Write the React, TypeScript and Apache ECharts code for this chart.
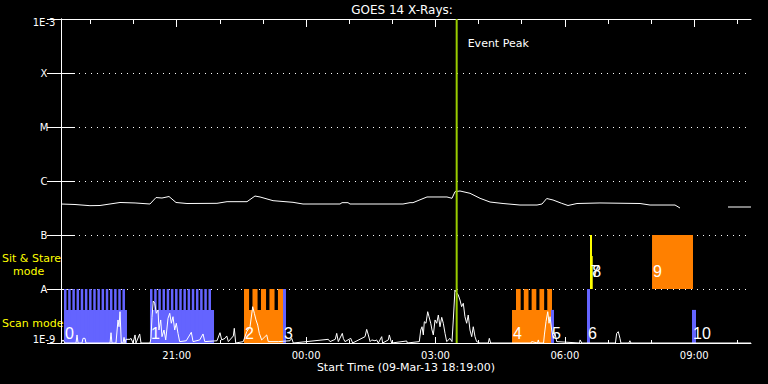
import React, { useEffect, useRef } from 'react';
import * as echarts from 'echarts';

const titleText = 'GOES 14 X-Rays:';
const startLabel = 'Start Time (09-Mar-13 18:19:00)';
const startClock = '18:19';
const spanMinutes = 960;

const minorTickLabels = ['19:00', '20:00', '21:00', '22:00', '23:00', '00:00', '01:00', '02:00', '03:00', '04:00', '05:00', '06:00', '07:00', '08:00', '09:00', '10:00'];
const majorTickLabels = ['21:00', '00:00', '03:00', '06:00', '09:00'];

const yExponents = [-9, -8, -7, -6, -5, -4, -3];
const yTickLabels = ['1E-9', 'A', 'B', 'C', 'M', 'X', '1E-3'];

// GOES long channel, minutes since start, flux in 1e-7 W/m^2 (null = data gap)
const longTime = [0, 19.5, 40.3, 54.3, 82.1, 103, 123.8, 132.2, 140.5, 150.3, 160, 175.3, 217, 231, 258.8, 269.9, 276.9, 295, 322.8, 336.7, 388.2, 391, 399.3, 402.1, 475.8, 485.6, 489.7, 509.2, 537, 544, 548.2, 555.1, 569, 583, 596.9, 615, 638.6, 662.3, 669.2, 675.8, 684.5, 696.6, 705.4, 717.9, 749.9, 805.6, 819.5, 854.3, 861.2, 895, 928, 960];
const longFlux = [3.75, 3.67, 3.49, 3.52, 4.0, 3.92, 3.75, 4.94, 4.84, 5.16, 4.0, 3.83, 3.86, 4.14, 4.14, 5.27, 5.06, 4.32, 4.03, 3.75, 3.75, 3.97, 3.97, 3.75, 3.75, 3.97, 3.97, 5.06, 5.06, 4.78, 6.34, 6.53, 5.92, 4.78, 4.08, 3.83, 3.59, 3.59, 3.75, 4.74, 4.45, 3.86, 3.52, 3.83, 3.92, 3.83, 3.59, 3.59, 3.16, null, 3.3, 3.3];

// GOES short channel, minutes since start, flux in 1e-9 W/m^2
const shortTime = [0, 2.8, 5.6, 20.9, 22.3, 23.7, 29.2, 30.6, 33.4, 34.8, 68.2, 69.6, 70.9, 76.5, 79.3, 80.7, 82.1, 83.9, 86.3, 87.7, 89, 90.4, 96, 97.4, 100.2, 103, 104.3, 109.5, 111.3, 123.8, 125.2, 126.6, 128.4, 130.4, 132.6, 135, 136.3, 138.7, 140.5, 143.3, 145.7, 148.9, 151.3, 153.5, 155.8, 158.2, 160.4, 162.8, 165.1, 174.3, 181.3, 183.7, 193, 197.6, 200, 217, 221.2, 223.6, 228.2, 230.6, 232.8, 239.8, 241.1, 243.1, 253.6, 258.4, 263, 266.7, 269, 271.3, 273.7, 275.9, 279.2, 283.8, 286.2, 288.4, 302.3, 318.6, 321, 323.2, 371.9, 374.3, 381.6, 383.6, 385.8, 391.4, 392.8, 395.1, 403.1, 405.8, 423, 425.3, 427.6, 430, 432.3, 436.8, 439.2, 441.5, 446.2, 447.5, 455.4, 456.8, 458.7, 460.1, 481, 481.8, 498.5, 500.5, 502.3, 504.1, 505.5, 507.8, 510.2, 512, 514.4, 516.2, 518, 520.4, 522.7, 525, 527.3, 529.7, 531.9, 534.3, 536.6, 541.2, 544, 545.8, 548.1, 550.5, 552.7, 555.1, 557.4, 559.7, 562, 564.4, 566.6, 569, 571.4, 573.6, 576, 578.3, 582.9, 594.5, 595.9, 597.8, 653.9, 654.9, 663, 664.1, 665.1, 671.4, 672.5, 674.8, 677.2, 679, 680.4, 682.7, 685, 687.3, 689.7, 721.5, 722.2, 724.6, 771.4, 773.1, 775.3, 777.7, 779, 790.1, 791.5, 792.9, 960];
const shortFlux = [1, 1.14, 1, 1, 1.41, 1, 1, 1.22, 1.22, 1, 1, 1.55, 1, 1, 2.67, 2.0, 3.8, 1, 1, 1.27, 1, 1.17, 1.17, 1.22, 1, 1.41, 1, 1.47, 1, 1, 1.22, 3.0, 6.0, 5.44, 3.55, 4.09, 1.74, 2.67, 1.31, 1.74, 1.14, 2.87, 3.55, 2.32, 3.07, 1.74, 2.32, 1.51, 1.06, 1.1, 1.58, 1.06, 1.14, 1.47, 1.06, 1.1, 1.55, 1.14, 1.22, 1.35, 1.06, 1.35, 1.87, 1, 1.06, 1.62, 2.0, 4.7, 3.55, 2.67, 2.15, 1.51, 1.14, 1.31, 1.41, 1.06, 1.06, 1.1, 1.22, 1, 1.17, 1.06, 1.17, 1.51, 1.06, 1.51, 1.22, 1.06, 1.22, 1, 1.31, 1.79, 1.41, 1.06, 1.14, 1.1, 1.14, 1, 1.31, 1, 1.14, 1.41, 1.14, 1, 1.09, 1, 1.06, 1.74, 2.0, 1.41, 2.48, 2.32, 3.8, 3.07, 2.32, 1.74, 1.41, 2.67, 2.32, 3.3, 2.0, 2.99, 2.32, 1.51, 1.06, 1.22, 1.06, 2.67, 9.58, 8.5, 7.74, 6.25, 4.7, 5.44, 3.07, 2.32, 3.3, 1.74, 1.31, 2.0, 1.31, 1.06, 1, 1, 1.22, 1, 1, 1.06, 1, 1.14, 1, 1, 1.41, 2.48, 3.8, 2.32, 3.07, 1.74, 1.22, 1.51, 1.06, 1, 1.14, 1, 1, 1.51, 1.62, 1.22, 1, 1, 1.1, 1, 1];

// Observation studies (minutes since start)
const studyNames = ['0', '1', '2', '3', '4', '5', '6', '7', '8', '9', '10'];
const studyMode = ['scan', 'scan', 'scan', 'scan', 'scan', 'scan', 'scan', 'sit', 'sit', 'sit', 'scan'];
const studyStart = [4.2, 123.8, 254.6, 308.9, 627.5, 681.7, 731.8, 736.0, 737.8, 822.3, 877.9];
const studyEnd = [91.8, 212.9, 308.9, 313.0, 683.1, 685.9, 736.0, 738.8, 739.8, 879.3, 883.5];
const studyColor = ['#6464ff', '#6464ff', '#ff8000', '#6464ff', '#ff8000', '#6464ff', '#6464ff', '#ffff00', '#ffff00', '#ff8000', '#6464ff'];
const studyBase = [1e-9, 1e-9, 1e-9, 1e-9, 1e-9, 1e-9, 1e-9, 1e-8, 1e-8, 1e-8, 1e-9];
const studyTop = [4.1e-9, 4.1e-9, 4.1e-9, 4.1e-9, 4.1e-9, 4.1e-9, 4.1e-9, 1e-7, 4.07e-8, 1e-7, 4.1e-9];
const studyRasters = [15, 15, 5, 1, 5, 0, 1, 0, 0, 0, 0];
const rasterFrom = [4.2, 123.8, 254.6, 308.9, 633.0, null, 731.8, null, null, null, null];
const rasterTo = [89.0, 208.7, 308.9, 313.0, 683.1, null, 736.0, null, null, null, null];
const rasterTop = 1e-8;
const labelLevelScan = 1.53e-9;
const labelLevelSit = 2.07e-8;

const eventPeak = 550.5;
const eventLabel = 'Event Peak';

const FONT = "'DejaVu Sans'";
const TOOTH_FRACTION = 0.6;

const pad = (n: number) => (n < 10 ? '0' : '') + n;
const clockToMin = (s: string) => {
  const [h, m] = s.split(':').map(Number);
  return h * 60 + m;
};
const startMin = clockToMin(startClock);
const clockToOffset = (s: string) => {
  let v = clockToMin(s) - startMin;
  if (v < 0) v += 1440;
  return v;
};
const offsetToClock = (v: number) => {
  const t = Math.round(v + startMin) % 1440;
  return pad(Math.floor(t / 60)) + ':' + pad(t % 60);
};

export default function App() {
  const ref = useRef<HTMLDivElement>(null);
  useEffect(() => {
    if (!ref.current) return;
    const chart = echarts.init(ref.current, undefined, { renderer: 'svg' });
    const minorTicks = minorTickLabels.map(clockToOffset);
    const majorTicks = majorTickLabels.map(clockToOffset);
    const white = '#ffffff';
    const lg = Math.log10;

    const xBase = { type: 'value', min: 0, max: spanMinutes, splitLine: { show: false } };

    const option: any = {
      animation: false,
      backgroundColor: '#000000',
      grid: { left: 61, right: 17, top: 19, bottom: 41, outerBoundsMode: 'none', containLabel: false },
      graphic: [
        { type: 'text', x: 402, y: 10, style: { text: titleText, fill: white, fontSize: 12, fontFamily: FONT, align: 'center', verticalAlign: 'middle' } },
        { type: 'text', x: 2, y: 258, style: { text: 'Sit & Stare', fill: '#ffff00', fontSize: 11, fontFamily: FONT, align: 'left', verticalAlign: 'middle' } },
        { type: 'text', x: 13, y: 271, style: { text: 'mode', fill: '#ffff00', fontSize: 11, fontFamily: FONT, align: 'left', verticalAlign: 'middle' } },
        { type: 'text', x: 2, y: 323, style: { text: 'Scan mode', fill: '#ffff00', fontSize: 11, fontFamily: FONT, align: 'left', verticalAlign: 'middle' } },
      ],
      xAxis: [
        {
          ...xBase, position: 'bottom',
          axisLine: { show: true, lineStyle: { color: white, width: 1 } },
          axisTick: { show: true, inside: true, length: 6, customValues: majorTicks, lineStyle: { color: white } },
          axisLabel: { show: true, customValues: majorTicks, formatter: (v: number) => offsetToClock(v), color: white, fontSize: 10, fontFamily: FONT, margin: 7 },
          name: startLabel, nameLocation: 'middle', nameGap: 19, nameMoveOverlap: false,
          nameTextStyle: { color: white, fontSize: 11, fontFamily: FONT, verticalAlign: 'top' },
        },
        {
          ...xBase, position: 'bottom',
          axisLine: { show: false },
          axisTick: { show: true, inside: true, length: 3, customValues: minorTicks, lineStyle: { color: white } },
          axisLabel: { show: false },
        },
        {
          ...xBase, position: 'top',
          axisLine: { show: true, lineStyle: { color: white, width: 1 } },
          axisTick: { show: true, inside: true, length: 8, customValues: majorTicks, lineStyle: { color: white } },
          axisLabel: { show: false },
        },
        {
          ...xBase, position: 'top',
          axisLine: { show: false },
          axisTick: { show: true, inside: true, length: 5, customValues: minorTicks, lineStyle: { color: white } },
          axisLabel: { show: false },
        },
      ],
      yAxis: [
        {
          type: 'value', min: yExponents[0], max: yExponents[yExponents.length - 1], interval: 1, position: 'left',
          axisLine: { show: true, lineStyle: { color: white, width: 1 } },
          axisTick: { show: true, inside: true, length: 14, lineStyle: { color: white } },
          axisLabel: {
            show: true, color: white, fontSize: 10, fontFamily: FONT, align: 'center', margin: 17,
            formatter: (v: number) => {
              const i = yExponents.indexOf(Math.round(v));
              const t = i >= 0 ? yTickLabels[i] : '';
              if (i === yExponents.length - 1) return '{top|' + t + '}';
              if (i === 0) return '{bot|' + t + '}';
              return t;
            },
            rich: {
              top: { padding: [7, 0, 0, 0], color: white, fontSize: 10, fontFamily: FONT },
              bot: { padding: [0, 0, 7, 0], color: white, fontSize: 10, fontFamily: FONT },
            },
          },
          splitLine: { show: true, lineStyle: { color: white, width: 1, type: [1, 5] } },
        },
        {
          type: 'value', min: yExponents[0], max: yExponents[yExponents.length - 1], interval: 1, position: 'right',
          axisLine: { show: true, lineStyle: { color: white, width: 1 } },
          axisTick: { show: true, inside: true, length: 14, lineStyle: { color: white } },
          axisLabel: { show: false },
          splitLine: { show: false },
        },
      ],
      series: [
        {
          type: 'custom', name: 'studies', z: 1, xAxisIndex: 0, yAxisIndex: 0,
          data: studyNames.map((_, i) => [studyStart[i], studyEnd[i], lg(studyBase[i]), lg(studyTop[i])]),
          encode: { x: [0, 1], y: [2, 3] },
          renderItem: (params: any, api: any) => {
            const i = params.dataIndex;
            const color = studyColor[i];
            const rect = (x0: number, x1: number, y0: number, y1: number) => {
              const p0 = api.coord([x0, y1]);
              const p1 = api.coord([x1, y0]);
              return { type: 'rect', shape: { x: p0[0], y: p0[1], width: p1[0] - p0[0], height: p1[1] - p0[1] }, style: { fill: color } };
            };
            const children: any[] = [rect(studyStart[i], studyEnd[i], lg(studyBase[i]), lg(studyTop[i]))];
            const n = studyRasters[i];
            const s = rasterFrom[i];
            const e = rasterTo[i];
            if (n > 0 && s != null && e != null) {
              const pitch = (e - s) / (n - 1 + TOOTH_FRACTION);
              for (let k = 0; k < n; k++) {
                const a = s + k * pitch;
                children.push(rect(a, a + TOOTH_FRACTION * pitch, lg(studyBase[i]), lg(rasterTop)));
              }
            }
            return { type: 'group', children };
          },
        },
        {
          type: 'line', name: 'short', z: 3, xAxisIndex: 0, yAxisIndex: 0, showSymbol: false, symbol: 'none',
          lineStyle: { color: white, width: 1 }, clip: true,
          data: shortTime.map((t, i) => [t, lg(shortFlux[i] * 1e-9)]),
        },
        {
          type: 'line', name: 'long', z: 3, xAxisIndex: 0, yAxisIndex: 0, showSymbol: false, symbol: 'none',
          lineStyle: { color: white, width: 1 }, clip: true, connectNulls: false,
          data: longTime.map((t, i) => [t, longFlux[i] == null ? '-' : lg((longFlux[i] as number) * 1e-7)]),
        },
        {
          type: 'custom', name: 'studyLabels', z: 5, xAxisIndex: 0, yAxisIndex: 0,
          data: studyNames.map((_, i) => [studyStart[i], lg(studyMode[i] === 'sit' ? labelLevelSit : labelLevelScan)]),
          renderItem: (params: any, api: any) => {
            const i = params.dataIndex;
            const p = api.coord([api.value(0), api.value(1)]);
            return {
              type: 'text', x: p[0] + 1, y: p[1],
              style: { text: studyNames[i], fill: white, fontSize: 16, fontFamily: "'Liberation Sans'", align: 'left', verticalAlign: 'middle' },
            };
          },
        },
        {
          type: 'custom', name: 'event', z: 6, xAxisIndex: 0, yAxisIndex: 0,
          data: [[eventPeak, -6]],
          renderItem: (params: any, api: any) => {
            const top = api.coord([api.value(0), yExponents[yExponents.length - 1]]);
            const bot = api.coord([api.value(0), yExponents[0]]);
            return {
              type: 'group',
              children: [
                { type: 'line', shape: { x1: top[0], y1: top[1], x2: bot[0], y2: bot[1] }, style: { stroke: '#99cc00', lineWidth: 2 } },
                { type: 'text', x: top[0] + 11, y: top[1] + 24, style: { text: eventLabel, fill: white, fontSize: 11, fontFamily: FONT, align: 'left', verticalAlign: 'middle' } },
              ],
            };
          },
        },
      ],
    };
    chart.setOption(option);
    return () => chart.dispose();
  }, []);
  return <div ref={ref} style={{ position: 'fixed', left: 0, top: 0, width: 768, height: 384, background: '#000' }} />;
}
